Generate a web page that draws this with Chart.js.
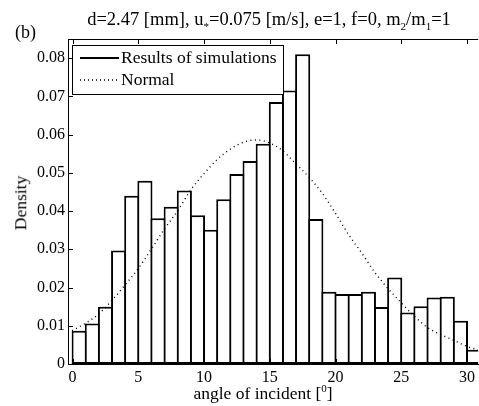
<!DOCTYPE html>
<html>
<head>
<meta charset="utf-8">
<script src="https://cdn.jsdelivr.net/npm/chart.js@4.4.1/dist/chart.umd.min.js"></script>
<style>
  html, body { margin: 0; padding: 0; background: #fff; }
  #wrap { position: relative; width: 479px; height: 406px; font-family: "Liberation Serif", "Times New Roman", serif; color: #000; }
  #chart { position: absolute; left: 0; top: 0; }
  .lbl { position: absolute; white-space: nowrap; line-height: 1; }
  #title { left: 269px; top: 10px; transform: translateX(-50%); font-size: 18.5px; }
  #panel { left: 15px; top: 23px; font-size: 18px; }
  #xlabel { left: 263px; top: 385px; transform: translateX(-50%); font-size: 17.5px; }
  #ylabel { left: 21px; top: 203px; transform: translate(-50%, -50%) rotate(-90deg); font-size: 17.5px; }
  sub, sup { font-size: 11px; line-height: 0; }
</style>
</head>
<body>
<div id="wrap">
  <canvas id="chart" width="479" height="406"></canvas>
  <div class="lbl" id="title">d=2.47 [mm], u<sub>*</sub>=0.075 [m/s], e=1, f=0, m<sub>2</sub>/m<sub>1</sub>=1</div>
  <div class="lbl" id="panel">(b)</div>
  <div class="lbl" id="xlabel">angle of incident [<sup>0</sup>]</div>
  <div class="lbl" id="ylabel">Density</div>
</div>
<script>
// histogram bins (left edge of each 1 degree bin)
const binLeft = [0, 1, 2, 3, 4, 5, 6, 7, 8, 9, 10, 11, 12, 13, 14, 15, 16, 17, 18, 19, 20, 21, 22, 23, 24, 25, 26, 27, 28, 29, 30];
const density = [0.0087, 0.0106, 0.0150, 0.0297, 0.0440, 0.0479, 0.0381, 0.0411, 0.0454, 0.0389, 0.0351, 0.0431, 0.0497, 0.0531, 0.0576, 0.0685, 0.0715, 0.0810, 0.0379, 0.0189, 0.0183, 0.0183, 0.0189, 0.0149, 0.0226, 0.0135, 0.0151, 0.0174, 0.0176, 0.0113, 0.0037];

// fitted normal curve
const normalX = [-0.35, 0, 1, 2, 3, 4, 5, 6, 7, 8, 9, 10, 11, 12, 13, 14, 15, 16, 17, 18, 19, 20, 21, 22, 23, 24, 25, 26, 27, 28, 29, 30, 30.85];
const normalY = [0.0082, 0.0088, 0.0107, 0.0131, 0.0167, 0.0207, 0.0250, 0.0301, 0.0354, 0.0401, 0.0456, 0.0498, 0.0535, 0.0562, 0.0580, 0.0586, 0.0578, 0.0557, 0.0523, 0.0488, 0.0446, 0.0394, 0.0338, 0.0290, 0.0239, 0.0197, 0.0160, 0.0125, 0.0095, 0.0077, 0.0062, 0.0046, 0.0037];

const xTicks = [0, 5, 10, 15, 20, 25, 30];
const yTicks = [0, 0.01, 0.02, 0.03, 0.04, 0.05, 0.06, 0.07, 0.08];

const serif = '"Liberation Serif", "Times New Roman", serif';

// matlab style frame: top line, inward ticks, legend box
const frame = {
  id: 'frame',
  afterDraw(chart) {
    const ctx = chart.ctx;
    const a = chart.chartArea;
    const xs = chart.scales.x, ys = chart.scales.y;
    ctx.save();
    ctx.strokeStyle = '#000';
    ctx.lineWidth = 1;
    ctx.beginPath();
    ctx.moveTo(a.left, a.top + 0.5);
    ctx.lineTo(a.right, a.top + 0.5);
    xTicks.forEach(v => {
      const px = Math.round(xs.getPixelForValue(v)) + 0.5;
      ctx.moveTo(px, a.top);
      ctx.lineTo(px, a.top + 5);
      ctx.moveTo(px, a.bottom);
      ctx.lineTo(px, a.bottom - 5);
    });
    yTicks.forEach(v => {
      const py = Math.round(ys.getPixelForValue(v)) + 0.5;
      ctx.moveTo(a.left, py);
      ctx.lineTo(a.left + 5, py);
    });
    ctx.stroke();

    // legend
    const bx = 72.5, by = 45.5, bw = 211, bh = 49;
    ctx.fillStyle = '#fff';
    ctx.fillRect(bx, by, bw, bh);
    ctx.strokeRect(bx, by, bw, bh);
    ctx.beginPath();
    ctx.lineWidth = 2;
    ctx.moveTo(80, 58);
    ctx.lineTo(119, 58);
    ctx.stroke();
    ctx.beginPath();
    ctx.lineWidth = 1.3;
    ctx.setLineDash([1, 3]);
    ctx.moveTo(80, 80);
    ctx.lineTo(119, 80);
    ctx.stroke();
    ctx.setLineDash([]);
    ctx.fillStyle = '#000';
    ctx.font = '17.5px ' + serif;
    ctx.textBaseline = 'middle';
    ctx.fillText('Results of simulations', 121, 58);
    ctx.fillText('Normal', 121, 80);
    ctx.restore();
  }
};

new Chart(document.getElementById('chart'), {
  type: 'bar',
  data: {
    datasets: [
      {
        type: 'line',
        label: 'Normal',
        data: normalX.map((x, i) => ({ x: x, y: normalY[i] })),
        borderColor: '#000',
        borderWidth: 1.4,
        borderDash: [1, 3.5],
        pointRadius: 0,
        cubicInterpolationMode: 'monotone',
        order: 0
      },
      {
        type: 'bar',
        label: 'Results of simulations',
        data: binLeft.map((b, i) => ({ x: b + 0.5, y: density[i] })),
        backgroundColor: '#fff',
        borderColor: '#000',
        borderWidth: 2,
        borderSkipped: false,
        barPercentage: 1.15,
        categoryPercentage: 1,
        order: 1
      }
    ]
  },
  options: {
    responsive: false,
    animation: false,
    devicePixelRatio: 1,
    layout: { padding: { top: 39, right: 0, left: 0, bottom: 0 } },
    plugins: { legend: { display: false }, tooltip: { enabled: false } },
    scales: {
      x: {
        type: 'linear',
        offset: false,
        min: -0.35,
        max: 30.85,
        afterBuildTicks: s => { s.ticks = xTicks.map(v => ({ value: v })); },
        afterFit: s => { s.height = 42; },
        grid: { display: false, drawTicks: false },
        border: { display: true, color: '#000', width: 1 },
        ticks: { color: '#000', font: { family: serif, size: 16 }, padding: 4 }
      },
      y: {
        min: 0,
        max: 0.085,
        afterBuildTicks: s => { s.ticks = yTicks.map(v => ({ value: v })); },
        afterFit: s => { s.width = 68; },
        grid: { display: false, drawTicks: false },
        border: { display: true, color: '#000', width: 1 },
        ticks: {
          color: '#000',
          font: { family: serif, size: 16 },
          padding: 3,
          callback: v => v === 0 ? '0' : v.toFixed(2)
        }
      }
    }
  },
  plugins: [frame]
});
</script>
</body>
</html>
